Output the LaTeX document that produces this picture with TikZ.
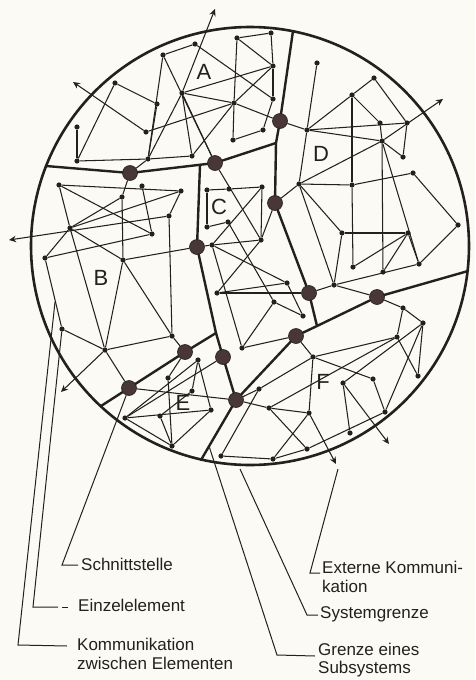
\documentclass[tikz,border=0pt]{standalone}
\usepackage{fontspec}
\setmainfont{Liberation Sans}
\usetikzlibrary{arrows.meta}
\definecolor{ink}{RGB}{35,32,30}
\definecolor{paper}{RGB}{251,250,244}
\definecolor{ifacecol}{RGB}{72,55,52}
\begin{document}
\begin{tikzpicture}[x=1pt,y=-1pt,
  link/.style={draw=ink,line width=1.05pt},
  boundary/.style={draw=ink,line width=2.4pt,line join=round,line cap=round},
  elem/.style={circle,fill=ink,inner sep=0pt,minimum size=5.2pt},
  iface/.style={circle,fill=ifacecol,draw=ink,line width=0.6pt,inner sep=0pt,minimum size=15pt},
  extarrow/.style={draw=ink,line width=1.05pt,-{Stealth[length=7pt,width=6.5pt]}},
  leader/.style={draw=ink,line width=1pt},
  legendtext/.style={font=\fontsize{17}{18.5}\selectfont,anchor=west,align=left,inner sep=0pt,text=ink},
  syslabel/.style={font=\fontsize{22}{24}\selectfont,inner sep=0pt,text=ink}]
\fill[paper] (0,0) rectangle (475,680);
\useasboundingbox (0,0) rectangle (475,680);

% system circle
\node[draw=ink,line width=2.6pt,circle,inner sep=0pt,minimum size=438pt] (rim) at (250,246) {};

% element nodes
\foreach \n/\x/\y in {a1/237/38,a2/271/33,a3/273/66,a4/273/99,a5/263/130,a6/233/140,a7/234/103,
  a8/195/44,a9/163/55,a10/182/93,a11/192/156,a12/148/159,a13/146/132,a14/157/104,a15/115/83,
  a16/77/127,a17/77/161,
  d1/317/63,d2/374/78,d3/352/95,d4/380/123,d5/407/123,d6/382/141,d7/403/157,d8/307/130,
  d9/413/173,d10/299/184,d11/352/185,d12/458/225,d13/342/233,d14/408/233,d15/353/267,
  d16/383/272,d17/419/264,d18/334/285,
  b1/59/185,b2/122/197,b3/142/186,b4/181/191,b5/169/216,b6/70/228,b7/152/234,b8/45/258,
  b9/123/260,b11/62/329,b12/105/350,b13/172/336,
  c1/207/190,c2/229/189,c3/262/187,c4/228/222,c5/207/227,c6/261/240,c7/212/245,c8/217/293,
  c9/287/283,c10/274/302,c11/303/316,c12/242/348,
  e1/198/360,e2/168/378,e3/192/391,e4/211/410,e5/125/418,e6/160/416,e7/172/446,
  f1/403/308,f2/423/323,f3/397/337,f4/313/357,f5/418/376,f6/343/383,f7/373/379,f8/259/389,
  f9/269/408,f10/309/413,f11/385/412,f12/350/433,f13/307/449,f14/273/459,g1/221/456}
  \node[elem] (\n) at (\x,\y) {};

% interface nodes
\foreach \n/\x/\y in {I1/130/173,I2/215/163,I3/280/121,I4/275/203,I5/197/247,I6/309/293,
  I7/377/297,I8/296/336,I9/185/352,I10/223/357,I11/129/388,I12/236/400}
  \node[iface] (\n) at (\x,\y) {};

% boundary end points
\coordinate (L1) at (46,166);
\coordinate (J1) at (276,143);
\coordinate (T) at (293,31);
\coordinate (J2) at (317,326);
\coordinate (R) at (468,271);
\coordinate (J3) at (200,165);
\coordinate (J4) at (216,333);
\coordinate (L2) at (101,406);
\coordinate (B2) at (201,460);

% subsystem boundaries
\draw[boundary] (L1) -- (I1) -- (I2) -- (J1);
\draw[boundary] (T) -- (I3) -- (J1) -- (I4) -- (I6) -- (J2);
\draw[boundary] (I12) -- (I8) -- (J2) -- (I7) -- (R);
\draw[boundary] (J3) -- (I5) -- (J4) -- (I10) -- (I12) -- (B2);
\draw[boundary] (L2) -- (I11) -- (I9) -- (J4);

% communication links
\foreach \u/\v in {a1/a2,a2/a3,a1/a3,a1/a7,a7/a6,a6/a5,a3/a4,a4/a5,a8/a4,a10/a3,a10/a7,
  a11/a7,a7/a3,a13/a7,a10/a11,a9/a8,a9/a12,a12/a10,a12/a11,a15/a14,a15/a17,a16/a17,
  a17/a12,a14/a12,
  d1/d8,d8/d10,d8/d3,d8/d5,d8/d6,d3/d2,d3/d4,d3/d11,d11/d15,d2/d5,d5/d7,d6/d7,d4/d6,
  d6/d10,d6/d16,d6/d17,d10/d11,d11/d9,d9/d12,d12/d17,d10/d13,d10/d18,d13/d14,d13/d18,
  d14/d15,d14/d16,d14/d17,d18/d17,
  b1/b4,b1/b7,b1/b6,b6/b12,b2/b6,b2/b9,b3/b7,b4/b6,b4/b5,b5/b13,b6/b9,b9/b13,b9/b12,
  b8/b6,b8/b7,b8/b11,b11/b12,b12/b13,
  c1/c2,c2/c3,c1/c5,c3/c6,c5/c4,c4/c10,c3/c7,c7/c6,c7/c9,c7/c12,c6/c8,c8/c9,c10/c12,
  c10/c11,c9/c11,
  e1/e3,e1/e4,e1/e5,e2/e7,e5/e4,e5/e7,e6/e7,e6/e3,e7/e4,
  f1/f2,f1/f3,f2/f5,f2/f6,f2/f11,f3/f5,f3/f4,f3/f9,f4/f7,f4/f10,f4/f8,f6/f12,f7/f11,
  f9/f10,f9/f13,f10/f14,f14/f13,f13/f11,g1/f14,g1/f8,
  a12/I1,I1/b2,a10/I2,a9/I2,I2/c6,a7/I3,I3/d8,I4/c6,I4/d10,I5/b9,I5/c7,I6/c8,I6/d18,
  I7/d18,I7/f1,I8/c12,I8/f4,I9/b13,I9/e2,I10/e5,I11/b12,I11/I12,I12/f9,I12/f8}
  \draw[link] (\u) -- (\v);

% external communication
\coordinate (xA) at (215,9);
\coordinate (xL1) at (73,82);
\coordinate (xL2) at (9,240);
\coordinate (xL3) at (61,392);
\coordinate (xD) at (443,99);
\coordinate (xF1) at (389,444);
\coordinate (xF2) at (336,464);
\draw[extarrow] (a10) -- (xA);
\draw[extarrow] (a13) -- (xL1);
\draw[extarrow] (b5) -- (xL2);
\draw[extarrow] (b12) -- (xL3);
\draw[extarrow] (d6) -- (xD);
\draw[extarrow] (f6) -- (xF1);
\draw[extarrow] (f10) -- (xF2);

% subsystem letters
\node[syslabel] (lA) at (204,72) {A};
\node[syslabel] (lB) at (101,278) {B};
\node[syslabel] (lC) at (219,207) {C};
\node[syslabel] (lD) at (321,154) {D};
\node[syslabel] (lE) at (183,403) {E};
\node[syslabel] (lF) at (323,382) {F};

% leaders
\coordinate (kEnd) at (55,302);
\coordinate (kBend) at (18,645);
\coordinate (kTail) at (67,646);
\coordinate (eBend) at (33,607);
\coordinate (eTail) at (58,607);
\coordinate (sBend) at (62,565);
\coordinate (sTail) at (78,565);
\coordinate (gStart) at (209,446);
\coordinate (gBend) at (277,655);
\coordinate (gTail) at (315,656);
\coordinate (yStart) at (240,469);
\coordinate (yBend) at (307,615);
\coordinate (yTail) at (318,615);
\coordinate (xStart) at (338,469);
\coordinate (xBend) at (310,573);
\coordinate (xTail) at (320,573);
\draw[leader] (kEnd) -- (kBend) -- (kTail);
\draw[leader] (b11) -- (eBend) -- (eTail);
\draw[leader] (62,607) -- (68,607);
\draw[leader] (I11) -- (sBend) -- (sTail);
\draw[leader] (gStart) -- (gBend) -- (gTail);
\draw[leader] (yStart) -- (yBend) -- (yTail);
\draw[leader] (xStart) -- (xBend) -- (xTail);

% legend texts
\node[legendtext] (tS) at (81,564) {Schnittstelle};
\node[legendtext] (tE) at (78,605) {Einzelelement};
\node[legendtext] (tK) at (77,654) {Kommunikation\\zwischen Elementen};
\node[legendtext] (tX) at (322,577) {Externe Kommuni-\\kation};
\node[legendtext] (tY) at (320,614) {Systemgrenze};
\node[legendtext] (tG) at (318,660) {Grenze eines\\Subsystems};
\end{tikzpicture}
\end{document}
